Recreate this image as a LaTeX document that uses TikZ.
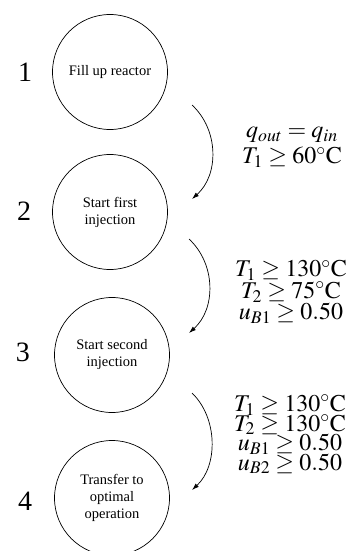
\documentclass[tikz,border=0pt]{standalone}
\usepackage{mathptmx}
\usepackage{fontspec}
\setmainfont{Liberation Serif}
\usetikzlibrary{arrows.meta}
\newcommand\condfont{\fontsize{24}{19.5}\selectfont\lineskiplimit=-100pt\relax}
\begin{document}
\begin{tikzpicture}[x=1pt,y=-1pt,
  state/.style={circle,draw,line width=0.7pt,minimum size=115pt,inner sep=0pt,align=center,
    font=\fontsize{14.5}{17}\selectfont},
  num/.style={font=\fontsize{28}{30}\selectfont},
  cond/.style={align=center,font=\condfont},
  trans/.style={line width=0.7pt,-{Latex[length=7pt,width=4.5pt]}}]
\useasboundingbox (0,0) rectangle (348,551);
\node[state] (s1) at (110,72) {Fill up reactor};
\node[state] (s2) at (110,212) {Start first\\injection};
\node[state] (s3) at (112,355) {Start second\\injection};
\node[state] (s4) at (112,498) {Transfer to\\optimal\\operation};
\node[num] (n1) at (25,72) {1};
\node[num] (n2) at (24,211) {2};
\node[num] (n3) at (23,352) {3};
\node[num] (n4) at (25,501) {4};
\coordinate (a1s) at (192,105); \coordinate (a1e) at (192,199);
\coordinate (a2s) at (189,239); \coordinate (a2e) at (189,333);
\coordinate (a3s) at (192,393); \coordinate (a3e) at (192,490);
\draw[trans] (a1s) .. controls (219,130) and (219,175) .. (a1e);
\draw[trans] (a2s) .. controls (216,264) and (216,309) .. (a2e);
\draw[trans] (a3s) .. controls (218,418) and (218,466) .. (a3e);
\node[cond] (c1) at (292,147.5) {$q_{out}=q_{in}$\\[6.5pt]$T_1\geq 60^\circ\mathrm{C}$};
\node[cond] (c2) at (291,292) {$T_1\geq 130^\circ\mathrm{C}$\\[2pt]$T_2\geq 75^\circ\mathrm{C}$\\[2pt]$u_{B1}\geq 0.50$};
\node[cond] (c3) at (290,434.5) {$T_1\geq 130^\circ\mathrm{C}$\\$T_2\geq 130^\circ\mathrm{C}$\\$u_{B1}\geq 0.50$\\$u_{B2}\geq 0.50$};
\end{tikzpicture}
\end{document}
